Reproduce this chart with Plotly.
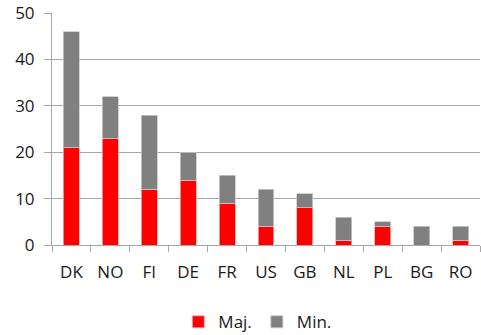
import plotly.graph_objects as go

countries = ["DK", "NO", "FI", "DE", "FR", "US", "GB", "NL", "PL", "BG", "RO"]
maj = [21, 23, 12, 14, 9, 4, 8, 1, 4, 0, 1]
minor = [25, 9, 16, 6, 6, 8, 3, 5, 1, 4, 3]
y_ticks = [0, 10, 20, 30, 40, 50]

fig = go.Figure()
fig.add_trace(go.Bar(x=countries, y=maj, name="Maj.", marker_color="#ff0000",
                     marker_line=dict(color="#f4b0b0", width=0.8)))
fig.add_trace(go.Bar(x=countries, y=minor, name="Min.", marker_color="#808080",
                     marker_line=dict(color="#c8c8c8", width=0.8)))

fig.update_layout(
    barmode="stack",
    bargap=0.59,
    width=481, height=335,
    margin=dict(l=52, r=1, t=13, b=90, autoexpand=False),
    plot_bgcolor="white", paper_bgcolor="white",
    font=dict(family="Open Sans", size=17, color="#1a1a1a"),
    showlegend=True,
    legend=dict(orientation="h", x=0.535, xref="container", xanchor="center",
                y=0.038, yref="container", yanchor="middle",
                font=dict(size=17), itemwidth=30, traceorder="normal"),
)
fig.update_xaxes(
    automargin=False,
    showline=True, linecolor="#a6a6a6", linewidth=1,
    ticks="outside", tickson="boundaries", ticklen=6, tickcolor="#a6a6a6",
    tickfont=dict(size=17), ticklabelstandoff=12, showgrid=False,
)
fig.update_yaxes(
    automargin=False,
    range=[0, 50], tickvals=y_ticks,
    showline=True, linecolor="#a6a6a6", linewidth=1,
    ticks="outside", ticklen=7, tickcolor="#a6a6a6",
    showgrid=True, gridcolor="#a6a6a6", gridwidth=1,
    tickfont=dict(size=17), ticklabelstandoff=6, zeroline=False,
)

fig.write_html("out.html")
